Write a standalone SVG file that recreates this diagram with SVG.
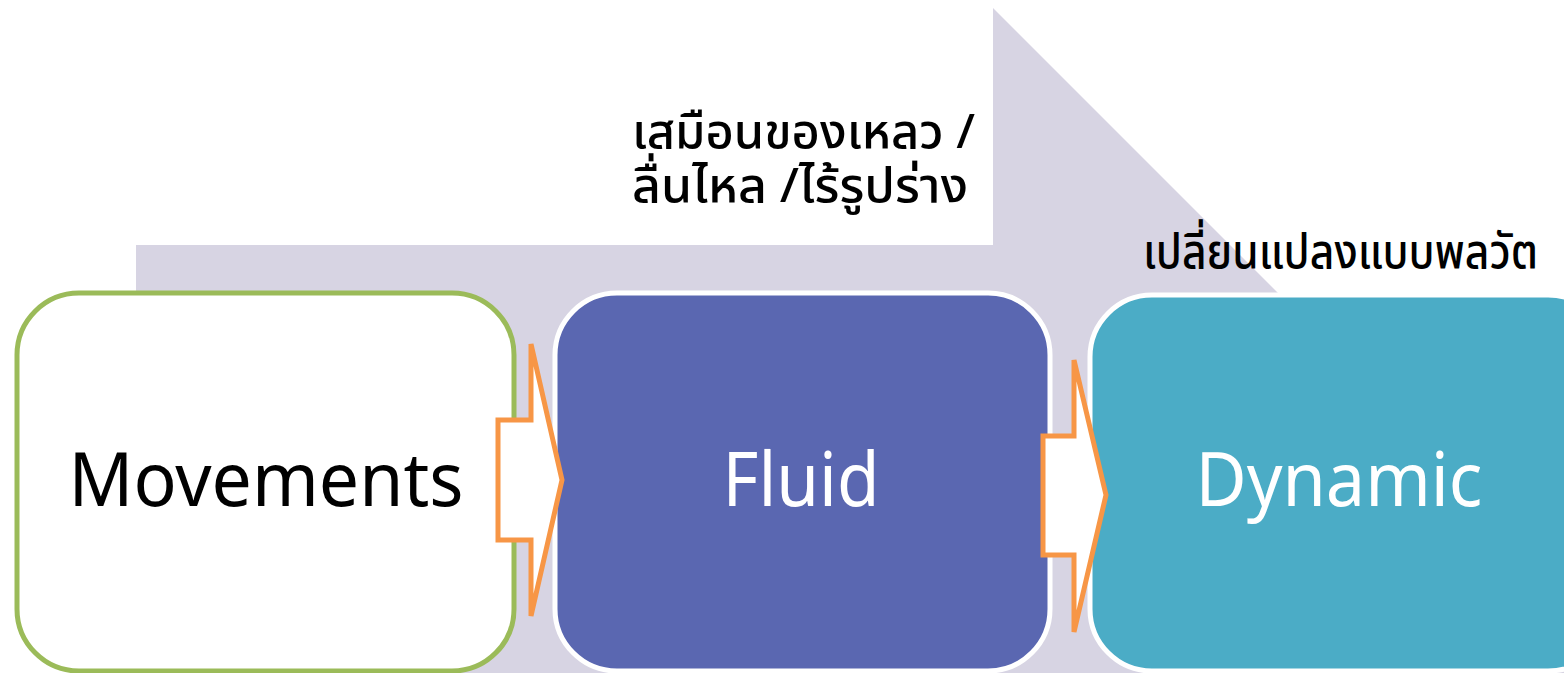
<svg xmlns="http://www.w3.org/2000/svg" width="1564" height="673" viewBox="0 0 1564 673">
<style>
.lbl{font-family:"Noto Sans","Open Sans","Liberation Sans",sans-serif;font-size:74px;}
.th{font-family:"Noto Sans Thai","Noto Sans","DejaVu Sans",sans-serif;font-size:48px;font-weight:500;fill:#000;}
.arr{fill:#FFFFFF;stroke:#F79646;stroke-width:5;stroke-linejoin:miter;}
</style>
<g id="background">
<polygon points="136,245 993,245 993,8 1658,673 136,673" fill="#D7D4E3"/>
</g>
<g id="node-movements">
<rect x="17" y="293" width="497" height="378" rx="62" ry="62" fill="#FFFFFF" stroke="#9BBB59" stroke-width="5"/>
<text class="lbl" x="266" y="506" text-anchor="middle" fill="#000000" textLength="395" lengthAdjust="spacingAndGlyphs">Movements</text>
</g>
<g id="node-fluid">
<rect x="555" y="293" width="495" height="378" rx="62" ry="62" fill="#5A67B1" stroke="#FFFFFF" stroke-width="5"/>
<text class="lbl" x="801" y="506" text-anchor="middle" fill="#FFFFFF" textLength="157" lengthAdjust="spacingAndGlyphs">Fluid</text>
</g>
<g id="node-dynamic">
<rect x="1090" y="295" width="520" height="376" rx="62" ry="62" fill="#4BACC6" stroke="#FFFFFF" stroke-width="5"/>
<text class="lbl" x="1339" y="506" text-anchor="middle" fill="#FFFFFF" textLength="287" lengthAdjust="spacingAndGlyphs">Dynamic</text>
</g>
<g id="connectors">
<polygon class="arr" points="498,420 531,420 531,344 562,480 531,616 531,540 498,540"/>
<polygon class="arr" points="1043,436 1074,436 1074,360 1106,495 1074,632 1074,555 1043,555"/>
</g>
<g id="labels">
<text class="th" x="632" y="148" textLength="343" lengthAdjust="spacingAndGlyphs">เสมือนของเหลว /</text>
<text class="th" x="632" y="202" textLength="336" lengthAdjust="spacingAndGlyphs">ลื่นไหล /ไร้รูปร่าง</text>
<text class="th" x="1143" y="268" textLength="395" lengthAdjust="spacingAndGlyphs">เปลี่ยนแปลงแบบพลวัต</text>
</g>
</svg>
